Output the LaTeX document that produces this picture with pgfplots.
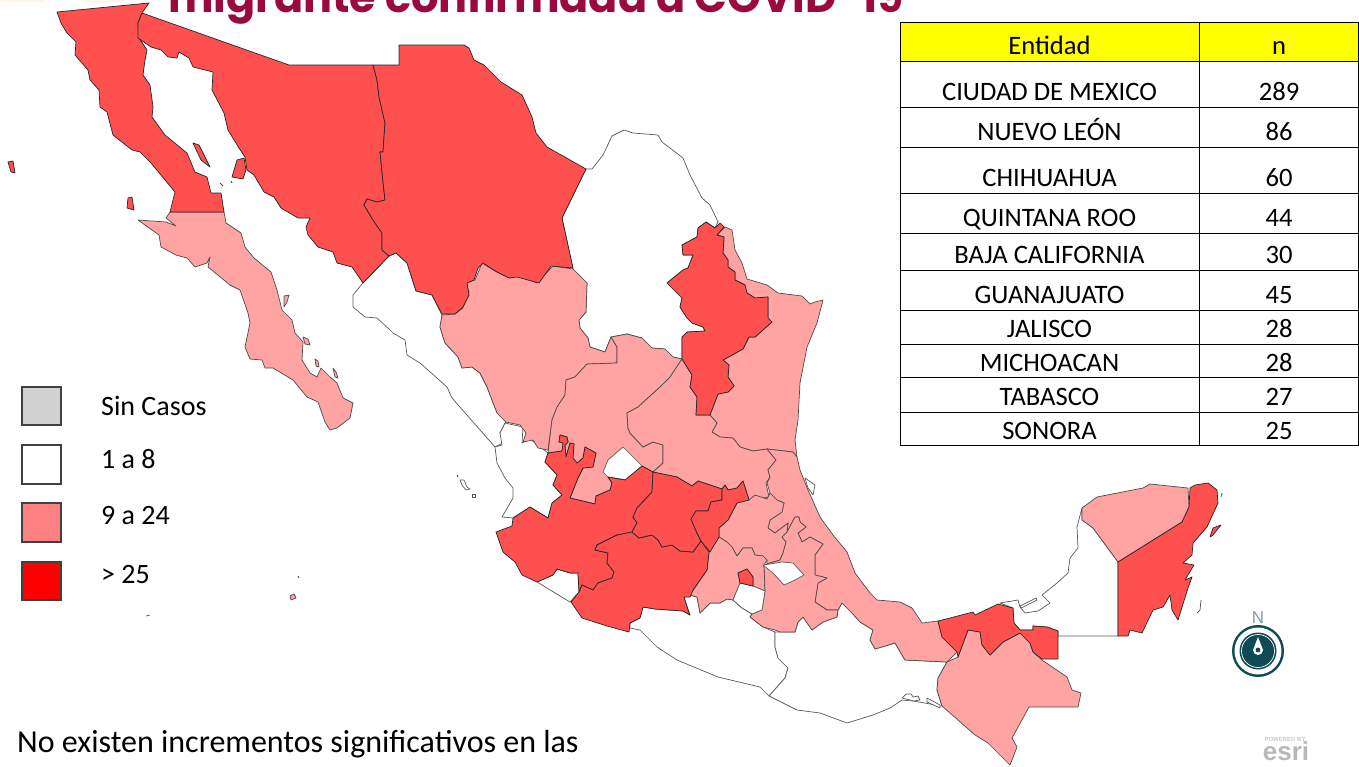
\documentclass[border=0pt]{standalone}
\usepackage{pgfplots}
\pgfplotsset{compat=1.18}
\usepackage{fontspec}
\setmainfont{Carlito}
\newfontfamily\titlefont{Poppins}
\newfontfamily\esrifont{Liberation Sans}
\definecolor{rd}{HTML}{FF5050}
\definecolor{pk}{HTML}{FFA3A3}
\definecolor{ttl}{HTML}{9B0A3E}
\definecolor{teal}{HTML}{0F4A55}
\definecolor{yl}{HTML}{FFFF00}
\definecolor{lgred}{HTML}{FF0000}
\definecolor{lgpk}{HTML}{FF8080}
\pgfplotsset{
  rstate/.style={draw=black!85,fill=rd,line width=0.7pt,line join=round},
  pstate/.style={draw=black!70,fill=pk,line width=0.7pt,line join=round},
  wstate/.style={draw=black!65,fill=white,line width=0.7pt,line join=round},
  cell/.style={draw=black,line width=1pt,fill=none},
}
\newcommand{\fs}[1]{\fontsize{#1}{#1}\selectfont}
\begin{document}
\begin{tikzpicture}
\useasboundingbox (0,0) rectangle (1359pt,766pt);
\clip (0,0) rectangle (1359pt,766pt);
\begin{axis}[at={(0,0)},anchor=south west,scale only axis,width=1359pt,height=766pt,
  xmin=0,xmax=1359,ymin=0,ymax=766,y dir=reverse,hide axis,clip=true]
% faint remains of the slide header
\addplot[draw=none,fill=orange!8] coordinates {(0,0)(46,0)(44,2)(2,2)} -- cycle;
\addplot[draw=none,fill=orange!8] coordinates {(84,0)(126,0)(124,2)(86,2)} -- cycle;
% ---------- white states
% Coahuila
\addplot[wstate] coordinates {(586,169)(592,169)(603,155)(612,136)(624,130)(633,133)(658,135)(662,142)(683,158)(690,175)(702,198)(710,205)(718,222)(715,228)(706,222)(698,228)(697,237)(682,245)(683,255)(693,255)(688,268)(683,270)(667,283)(682,298)(680,307)(687,318)(692,323)(703,327)(705,331)(687,332)(682,337)(682,359)(673,357)(665,349)(652,348)(642,338)(627,334)(611,337)(605,352)(590,347)(588,338)(580,328)(579,320)(586,312)(587,283)(573,269)(562,218)} -- cycle;
% Sinaloa
\addplot[wstate] coordinates {(389,256)(396,253)(407,263)(416,291)(432,295)(442,315)(440,327)(445,343)(458,357)(462,368)(472,367)(480,373)(487,387)(497,413)(506,422)(500,433)(503,443)(495,447)(452,398)(447,387)(420,363)(407,355)(405,340)(393,333)(390,330)(377,318)(365,317)(353,307)(353,295)(362,284)} -- cycle;
% Nayarit
\addplot[wstate] coordinates {(502,445)(500,433)(505,423)(523,427)(522,443)(530,439)(548,453)(545,462)(557,475)(553,485)(562,495)(552,503)(548,518)(530,507)(513,518)(502,517)(513,498)(513,488)(505,478)(497,463)(495,447)} -- cycle;
% Colima
\addplot[wstate] coordinates {(537,582)(553,575)(557,569)(570,573)(578,573)(579,592)(570,602)(547,588)} -- cycle;
% Guerrero
\addplot[wstate] coordinates {(630,628)(640,630)(657,647)(677,660)(718,677)(760,687)(769,696)(777,687)(785,678)(788,668)(778,658)(775,647)(775,632)(763,627)(750,617)(752,614)(742,608)(733,600)(727,599)(720,603)(710,603)(700,613)(697,597)(690,595)(684,597)(690,615)(683,611)(655,609)(643,607)(640,618)(630,623)} -- cycle;
% Oaxaca
\addplot[wstate] coordinates {(775,632)(775,647)(778,658)(788,668)(785,678)(777,687)(769,696)(797,710)(820,713)(847,723)(873,715)(890,708)(902,700)(913,701)(942,706)(937,690)(938,678)(947,662)(905,660)(895,643)(875,649)(870,640)(873,630)(860,622)(852,613)(842,603)(838,610)(837,617)(823,622)(812,630)(803,617)(798,622)(795,632)(780,632)} -- cycle;
\addplot[wstate] coordinates {(902,698)(906,694)(911,694)(913,697)(918,696)(920,700)(914,701)} -- cycle;
\addplot[wstate] coordinates {(927,698)(940,705)(940,708)(927,702)} -- cycle;
% Campeche
\addplot[wstate] coordinates {(1000,603)(1018,600)(1020,607)(1025,613)(1038,611)(1050,603)(1042,595)(1057,583)(1068,573)(1070,558)(1078,548)(1077,527)(1082,508)(1082,520)(1093,528)(1118,562)(1118,636)(1058,636)(1058,631)(1047,627)(1033,626)(1033,630)(1020,630)(1014,623)(1013,608)} -- cycle;
\addplot[wstate] coordinates {(1020,606)(1036,598)(1037,600)(1021,608)} -- cycle;
% Islas Marias
\addplot[wstate] coordinates {(460,480)(464,480)(467,487)(470,489)(466,490)(462,485)} -- cycle;
\addplot[wstate] coordinates {(472,494)(475,494)(475,497)(472,497)} -- cycle;
\addplot[draw=black!70,line width=1pt] coordinates {(457,475)(458,477)};
% ---------- pink states
% BCS
\addplot[pstate] coordinates {(170,212)(224,212)(226,223)(241,233)(245,247)(254,258)(271,272)(277,290)(282,310)(292,320)(295,333)(303,342)(302,360)(310,373)(317,377)(321,368)(330,377)(337,383)(343,398)(353,403)(350,418)(337,428)(330,430)(325,422)(318,402)(307,397)(293,380)(273,368)(265,368)(262,360)(250,359)(245,347)(250,323)(248,313)(240,290)(230,285)(208,267)(210,257)(207,263)(195,267)(187,258)(176,255)(161,247)(159,235)(138,220)(166,222)(176,226)(166,218)} -- cycle;
% Durango
\addplot[pstate] coordinates {(442,315)(455,314)(463,308)(464,297)(469,292)(466,283)(475,280)(482,263)(495,271)(510,278)(517,275)(537,283)(553,266)(573,269)(587,283)(586,312)(579,320)(580,328)(588,338)(590,347)(605,352)(611,337)(617,347)(617,363)(587,364)(575,377)(566,380)(565,395)(557,407)(552,420)(548,450)(538,448)(533,440)(523,442)(526,433)(520,425)(506,422)(497,413)(487,387)(480,373)(472,367)(462,368)(458,357)(445,343)(440,327)} -- cycle;
% Zacatecas
\addplot[pstate] coordinates {(548,453)(552,420)(557,407)(565,395)(566,380)(575,377)(587,364)(617,363)(617,347)(611,337)(627,334)(642,338)(652,348)(665,349)(673,357)(682,359)(670,377)(660,387)(638,407)(627,413)(628,428)(630,433)(643,447)(653,442)(663,445)(663,463)(653,472)(642,466)(625,480)(608,477)(612,483)(610,490)(596,496)(595,504)(570,498)(578,478)(583,468)(593,467)(596,453)(585,447)(583,458)(577,463)(573,458)(574,444)(570,443)(566,457)(565,445)(568,442)(567,437)(560,435)(559,442)(563,443)(562,451)} -- cycle;
% Aguascalientes (1 a 8)
\addplot[wstate] coordinates {(603,472)(608,460)(623,447)(642,466)(627,480)(608,477)} -- cycle;
% Tamaulipas
\addplot[pstate] coordinates {(717,235)(725,227)(732,230)(735,250)(742,263)(747,279)(767,285)(778,293)(802,296)(810,304)(815,302)(823,300)(817,323)(807,347)(800,383)(798,420)(795,440)(797,457)(793,452)(767,449)(753,451)(740,447)(733,438)(720,437)(712,432)(717,423)(710,415)(713,407)(718,394)(728,392)(734,386)(728,377)(729,365)(723,360)(743,349)(749,337)(755,337)(772,322)(768,318)(768,297)(755,298)(747,293)(745,285)(735,280)(735,272)(728,267)(728,260)(723,253)(724,237)} -- cycle;
% San Luis Potosi
\addplot[pstate] coordinates {(682,359)(692,375)(690,387)(697,397)(696,415)(710,415)(717,423)(712,432)(720,437)(733,438)(740,447)(753,451)(767,449)(776,460)(768,470)(770,477)(766,483)(769,497)(749,500)(743,481)(737,488)(728,490)(725,485)(722,489)(698,481)(692,486)(677,477)(653,472)(663,463)(663,445)(653,442)(643,447)(630,433)(628,428)(627,413)(638,407)(660,387)(670,377)} -- cycle;
% Veracruz
\addplot[pstate] coordinates {(767,449)(793,452)(797,457)(800,470)(808,490)(820,517)(833,535)(847,552)(855,573)(870,593)(877,600)(900,602)(912,608)(922,623)(938,621)(942,637)(957,652)(947,662)(905,660)(895,643)(875,649)(870,640)(873,630)(860,622)(852,613)(842,603)(838,610)(827,610)(815,602)(818,583)(827,578)(815,575)(815,555)(823,544)(810,537)(802,542)(798,533)(806,527)(800,522)(799,517)(795,517)(787,532)(788,523)(775,533)(768,528)(770,520)(782,512)(784,503)(777,500)(770,493)(767,483)(770,477)(768,470)(776,460)} -- cycle;
\addplot[wstate] coordinates {(805,478)(815,485)(813,495)(808,488)} -- cycle;
% Hidalgo
\addplot[pstate] coordinates {(719,528)(728,520)(737,503)(749,500)(755,495)(767,499)(770,493)(777,500)(784,503)(782,512)(770,520)(768,528)(775,533)(788,523)(787,532)(782,537)(786,542)(783,553)(780,560)(767,564)(767,560)(763,556)(755,555)(752,548)(743,548)(737,556)(732,547)(727,542)(719,537)} -- cycle;
% Estado de Mexico
\addplot[pstate] coordinates {(719,537)(727,542)(732,547)(737,556)(743,548)(752,548)(755,555)(763,556)(767,560)(764,565)(765,591)(753,586)(753,577)(747,569)(738,573)(740,583)(733,600)(727,599)(720,603)(710,603)(700,613)(697,597)(690,595)(707,570)(709,552)} -- cycle;
% Puebla
\addplot[pstate] coordinates {(795,517)(787,532)(782,537)(786,542)(783,553)(780,560)(767,564)(764,565)(765,591)(762,610)(752,614)(750,617)(763,627)(775,630)(780,632)(795,632)(798,622)(803,617)(812,630)(823,622)(837,617)(838,610)(827,610)(815,602)(818,583)(827,578)(815,575)(815,555)(823,544)(810,537)(802,542)(798,533)(806,527)(800,522)(799,517)} -- cycle;
% Tlaxcala and Morelos (1 a 8)
\addplot[wstate] coordinates {(763,565)(782,562)(793,563)(804,575)(795,580)(784,585)(773,573)} -- cycle;
\addplot[wstate] coordinates {(733,600)(740,583)(753,586)(765,591)(762,610)(752,614)(742,608)} -- cycle;
% Chiapas
\addplot[pstate] coordinates {(947,662)(958,657)(968,630)(980,632)(982,645)(990,655)(1003,642)(1020,633)(1030,643)(1033,652)(1042,660)(1067,677)(1072,690)(1081,693)(1078,707)(1029,707)(1012,738)(1017,747)(1010,765)(988,743)(975,735)(942,706)(937,690)(938,678)} -- cycle;
% Yucatan
\addplot[pstate] coordinates {(1082,508)(1097,497)(1143,488)(1150,484)(1188,488)(1189,507)(1182,522)(1118,562)(1093,528)(1082,520)} -- cycle;
% small pink island
\addplot[pstate] coordinates {(290,596)(294,594)(296,598)(291,600)} -- cycle;
% gulf-of-California islands off BCS
\addplot[pstate] coordinates {(284,296)(289,295)(287,302)(284,307)} -- cycle;
\addplot[pstate] coordinates {(303,337)(308,339)(310,345)(305,344)} -- cycle;
\addplot[pstate] coordinates {(315,359)(318,361)(319,367)(316,366)} -- cycle;
\addplot[pstate] coordinates {(333,368)(336,372)(338,378)(335,377)} -- cycle;
% ---------- red states
% Baja California
\addplot[rstate] coordinates {(57,12)(149,3)(142,13)(138,23)(139,38)(147,50)(145,60)(143,75)(150,85)(153,107)(152,117)(165,135)(187,153)(195,172)(207,177)(211,193)(221,193)(224,212)(170,212)(175,192)(165,180)(151,163)(140,152)(132,150)(113,135)(107,112)(100,107)(99,90)(90,80)(88,70)(75,55)(76,42)(67,33)(61,23)} -- cycle;
% Sonora
\addplot[rstate] coordinates {(142,13)(289,65)(373,65)(377,80)(379,97)(385,123)(383,152)(380,152)(383,182)(385,200)(377,202)(367,199)(364,205)(373,220)(382,233)(382,250)(389,256)(363,283)(352,267)(337,263)(333,252)(318,247)(308,235)(306,227)(310,218)(298,218)(281,208)(274,197)(264,192)(254,175)(247,170)(245,157)(239,148)(228,130)(224,113)(212,90)(213,72)(193,67)(189,58)(179,52)(177,58)(168,57)(161,50)(151,47)(138,38)(138,23)} -- cycle;
% Chihuahua
\addplot[rstate] coordinates {(373,65)(399,65)(399,45)(464,45)(469,48)(474,60)(484,65)(501,82)(522,95)(532,117)(536,133)(547,147)(586,169)(562,218)(573,268)(551,266)(539,283)(517,277)(509,278)(497,272)(483,263)(478,268)(474,280)(467,283)(469,295)(463,307)(455,314)(442,314)(432,295)(416,291)(407,263)(396,253)(389,256)(382,250)(382,233)(373,220)(364,205)(367,199)(377,202)(385,200)(383,182)(380,152)(383,152)(385,123)(379,97)(377,80)} -- cycle;
% Nuevo Leon
\addplot[rstate] coordinates {(682,359)(682,337)(687,332)(705,331)(703,327)(692,323)(687,318)(680,307)(682,298)(667,283)(683,270)(688,268)(693,255)(683,255)(682,245)(697,237)(698,228)(706,222)(715,228)(720,223)(724,227)(717,235)(724,237)(723,253)(728,260)(728,267)(735,272)(735,280)(745,285)(747,293)(755,298)(768,297)(768,318)(772,322)(755,337)(749,337)(743,349)(723,360)(729,365)(728,377)(734,386)(728,392)(718,394)(713,407)(710,415)(696,415)(697,397)(690,387)(692,375)} -- cycle;
% Jalisco
\addplot[rstate] coordinates {(496,532)(512,526)(513,518)(530,507)(548,518)(552,503)(562,495)(553,485)(557,475)(545,462)(548,453)(562,451)(563,443)(559,442)(560,435)(567,437)(568,442)(565,445)(566,457)(570,443)(574,444)(573,458)(577,463)(583,458)(585,447)(596,453)(593,467)(583,468)(578,478)(570,498)(595,504)(596,496)(610,490)(612,483)(608,477)(625,480)(642,466)(653,472)(652,492)(637,508)(633,517)(637,523)(632,532)(617,535)(597,545)(595,550)(608,553)(607,563)(614,572)(612,578)(598,583)(593,590)(582,585)(579,592)(578,573)(570,573)(557,569)(553,575)(537,582)(522,575)(515,562)(503,552)} -- cycle;
% Michoacan
\addplot[rstate] coordinates {(571,602)(579,592)(582,585)(593,590)(598,583)(612,578)(614,572)(607,563)(608,553)(595,550)(597,545)(617,535)(632,532)(639,538)(652,535)(658,540)(662,547)(672,545)(680,551)(693,552)(701,541)(709,552)(707,570)(693,590)(690,597)(684,597)(688,610)(690,615)(683,611)(655,609)(643,607)(640,618)(630,623)(629,632)(607,626)(582,618)} -- cycle;
% Guanajuato
\addplot[rstate] coordinates {(653,472)(677,477)(692,486)(698,481)(722,489)(722,500)(711,502)(708,511)(696,511)(691,519)(697,533)(701,541)(693,552)(680,551)(672,545)(662,547)(658,540)(652,535)(639,538)(632,532)(637,523)(633,517)(637,508)(652,492)} -- cycle;
% Queretaro
\addplot[rstate] coordinates {(722,489)(725,485)(728,490)(737,488)(743,481)(749,500)(737,503)(728,520)(719,528)(719,537)(710,552)(701,541)(697,533)(691,519)(696,511)(708,511)(711,502)(722,500)} -- cycle;
% CDMX
\addplot[rstate] coordinates {(738,573)(747,569)(753,577)(753,586)(740,583)} -- cycle;
% Tabasco
\addplot[rstate] coordinates {(938,621)(950,618)(973,612)(975,615)(998,604)(1013,608)(1014,623)(1020,630)(1033,630)(1033,626)(1047,627)(1058,631)(1058,659)(1042,659)(1033,652)(1030,643)(1020,633)(1003,642)(990,655)(982,645)(980,632)(968,630)(958,657)(957,652)(942,637)} -- cycle;
% Quintana Roo
\addplot[rstate] coordinates {(1190,488)(1195,485)(1208,483)(1217,490)(1218,503)(1207,527)(1193,543)(1192,555)(1183,563)(1194,565)(1188,575)(1185,580)(1192,577)(1188,588)(1178,620)(1172,610)(1170,595)(1163,607)(1153,610)(1142,633)(1130,630)(1128,636)(1118,636)(1118,562)(1182,522)(1189,507)} -- cycle;
\addplot[rstate] coordinates {(1210,537)(1213,528)(1221,525)(1213,535)} -- cycle;
% islands off Baja California and Sonora
\addplot[rstate] coordinates {(8,162)(13,161)(15,173)(11,172)} -- cycle;
\addplot[rstate] coordinates {(128,198)(132,197)(134,210)(127,208)} -- cycle;
\addplot[rstate] coordinates {(193,143)(199,145)(210,167)(201,160)} -- cycle;
\addplot[rstate] coordinates {(237,160)(244,158)(246,170)(243,179)(232,177)} -- cycle;
\addplot[draw=black!70,line width=1pt] coordinates {(231,181)(232,183)};
\addplot[draw=black!70,line width=1pt] coordinates {(220,183)(223,186)};
% small coastal islands
\addplot[draw=black!70,line width=0.7pt] coordinates {(1221,497)(1222,493)};
\addplot[draw=black!70,line width=0.7pt] coordinates {(1201,600)(1200,610)(1197,613)};
\addplot[draw=black!70,line width=1pt] coordinates {(298,576)(299,578)};
\addplot[draw=black!70,line width=0.7pt] coordinates {(146,616)(150,615)};
% ---------- legend
\addplot[draw=black!75,fill=black!18,line width=1.6pt] coordinates {(22,387)(61,387)(61,425)(22,425)} -- cycle;
\addplot[draw=black!75,fill=white,line width=1.6pt] coordinates {(22,445)(61,445)(61,484)(22,484)} -- cycle;
\addplot[draw=black!75,fill=lgpk,line width=1.6pt] coordinates {(22,503)(61,503)(61,542)(22,542)} -- cycle;
\addplot[draw=black!75,fill=lgred,line width=1.6pt] coordinates {(22,562)(61,562)(61,600)(22,600)} -- cycle;
% ---------- table
\addplot[fill=yl,draw=none] coordinates {(900,22)(1359,22)(1359,61)(900,61)} -- cycle;
\addplot[cell] coordinates {(900,22)(1359,22)};
\addplot[cell] coordinates {(900,61.5)(1359,61.5)};
\addplot[cell] coordinates {(900,107)(1359,107)};
\addplot[cell] coordinates {(900,147.5)(1359,147.5)};
\addplot[cell] coordinates {(900,193)(1359,193)};
\addplot[cell] coordinates {(900,233.5)(1359,233.5)};
\addplot[cell] coordinates {(900,270)(1359,270)};
\addplot[cell] coordinates {(900,310)(1359,310)};
\addplot[cell] coordinates {(900,344)(1359,344)};
\addplot[cell] coordinates {(900,377.5)(1359,377.5)};
\addplot[cell] coordinates {(900,412)(1359,412)};
\addplot[cell] coordinates {(900,445.5)(1359,445.5)};
\addplot[cell] coordinates {(900,22)(900,445.5)};
\addplot[cell] coordinates {(1199,22)(1199,445.5)};
\addplot[cell] coordinates {(1358.5,22)(1358.5,445.5)};
\end{axis}
% ---------- text, placed with the axis units (1 unit = 1 pt, y measured from the top)
\newcommand{\T}[3]{\node[inner sep=0pt,anchor=base] at (#1pt,{(766-#2-8.5)*1pt}) {\fs{26.6}#3};}
\T{1049.5}{46}{Entidad}\T{1279}{46}{n}
\T{1049.5}{92}{CIUDAD DE MEXICO}\T{1279}{92}{289}
\T{1049.5}{132}{NUEVO LEÓN}\T{1279}{132}{86}
\T{1049.5}{178}{CHIHUAHUA}\T{1279}{178}{60}
\T{1049.5}{218}{QUINTANA ROO}\T{1279}{218}{44}
\T{1049.5}{255}{BAJA CALIFORNIA}\T{1279}{255}{30}
\T{1049.5}{295}{GUANAJUATO}\T{1279}{295}{45}
\T{1049.5}{329}{JALISCO}\T{1279}{329}{28}
\T{1049.5}{363}{MICHOACAN}\T{1279}{363}{28}
\T{1049.5}{397}{TABASCO}\T{1279}{397}{27}
\T{1049.5}{431}{SONORA}\T{1279}{431}{25}
\newcommand{\Lg}[2]{\node[inner sep=0pt,anchor=base west] at (101pt,{(766-#1-9)*1pt}) {\fs{28}#2};}
\Lg{407}{Sin Casos}\Lg{460}{1 a 8}\Lg{516}{9 a 24}\Lg{574}{> 25}
\node[inner sep=0pt,anchor=base west] at (17pt,{(766-752)*1pt}) {\fs{32}No existen incrementos significativos en las};
\node[inner sep=0pt,anchor=base west,text=ttl] at (168pt,{(766-12.5)*1pt}) {\titlefont\bfseries\fs{43}migrante confirmada a COVID-19};
% compass
\fill[teal] (1258pt,{(766-651)*1pt}) circle[radius=26pt];
\fill[white] (1258pt,{(766-651)*1pt}) circle[radius=23.5pt];
\fill[teal] (1258pt,{(766-651)*1pt}) circle[radius=18.5pt];
\draw[white,line width=0.7pt] (1258pt,{(766-651)*1pt}) circle[radius=16.5pt];
\fill[white] (1258pt,{(766-637)*1pt}) -- (1263pt,{(766-650)*1pt}) arc[start angle=0,end angle=-180,radius=5pt] -- cycle;
\fill[teal] (1258pt,{(766-650)*1pt}) circle[radius=2.4pt];
\node[inner sep=0pt,text=teal!55!white] at (1258pt,{(766-617.5)*1pt}) {\esrifont\fs{17}N};
% esri
\node[inner sep=0pt,text=black!28] at (1286pt,{(766-751)*1pt}) {\esrifont\bfseries\fs{26}esri};
\node[inner sep=0pt,text=black!22] at (1285pt,{(766-739)*1pt}) {\esrifont\bfseries\fs{6}POWERED BY};
\end{tikzpicture}
\end{document}
